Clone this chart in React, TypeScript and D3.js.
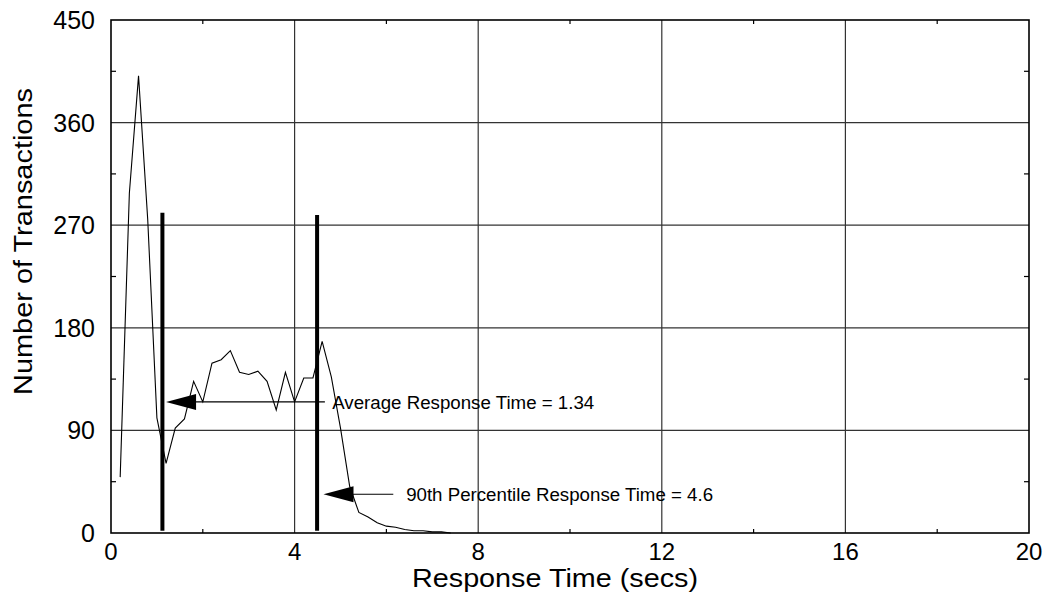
import React from "react";
import * as d3 from "d3";

const responseTimes = [0.2, 0.4, 0.6, 0.8, 1.0, 1.2, 1.4, 1.6, 1.8, 2.0, 2.2, 2.4, 2.6, 2.8, 3.0, 3.2, 3.4, 3.6, 3.8, 4.0, 4.2, 4.4, 4.6, 4.8, 5.0, 5.2, 5.4, 5.6, 5.8, 6.0, 6.2, 6.4, 6.6, 6.8, 7.0, 7.2, 7.4];
const transactions = [49, 298, 401, 275, 101, 61, 92, 100, 133, 115, 149, 152, 160, 141, 139, 142, 133, 108, 141, 115, 136, 136, 168, 137, 92, 41, 18, 14, 9, 6, 5, 3, 2, 2, 1, 1, 0];

const xTicks = [0, 4, 8, 12, 16, 20];
const xMinorTicks = [2, 6, 10, 14, 18];
const yTicks = [0, 90, 180, 270, 360, 450];
const yMinorTicks = [45, 135, 225, 315, 405];

// marker lines: [x position, top value]
const markerX = [1.12, 4.49];
const markerTop = [281, 279];

// annotations: arrow tip x, line end x, y, label x, label
const annTipX = [1.2, 4.63];
const annEndX = [4.66, 6.15];
const annY = [115, 34];
const annLabelX = [4.82, 6.43];
const annLabels = ["Average Response Time = 1.34", "90th Percentile Response Time = 4.6"];

const W = 1048;
const H = 594;
const M = { left: 111, right: 1029, top: 20, bottom: 533 };
const FONT = "'Liberation Sans', Arial, Helvetica, sans-serif";

export default function App() {
  const x = d3.scaleLinear().domain([0, 20]).range([M.left, M.right]);
  const y = d3.scaleLinear().domain([0, 450]).range([M.bottom, M.top]);
  const line = d3
    .line<number>()
    .x((_, i) => x(responseTimes[i]))
    .y((d) => y(d));
  const pathD = line(transactions) || "";

  return (
    <svg
      width={W}
      height={H}
      style={{ position: "absolute", left: 0, top: 0, background: "#fff" }}
      fontFamily={FONT}
    >
      <rect x={0} y={0} width={W} height={H} fill="#fff" />
      {/* grid */}
      {xTicks.slice(1, -1).map((t) => (
        <line key={"gx" + t} x1={x(t)} x2={x(t)} y1={y(0)} y2={y(450)} stroke="#333" strokeWidth={1.2} />
      ))}
      {yTicks.slice(1, -1).map((t) => (
        <line key={"gy" + t} x1={x(0)} x2={x(20)} y1={y(t)} y2={y(t)} stroke="#333" strokeWidth={1.2} />
      ))}
      {/* minor ticks */}
      {yMinorTicks.map((t) => (
        <g key={"my" + t}>
          <line x1={x(0)} x2={x(0) + 5} y1={y(t)} y2={y(t)} stroke="#000" strokeWidth={1.2} />
          <line x1={x(20) - 5} x2={x(20)} y1={y(t)} y2={y(t)} stroke="#000" strokeWidth={1.2} />
        </g>
      ))}
      {xMinorTicks.map((t) => (
        <g key={"mx" + t}>
          <line x1={x(t)} x2={x(t)} y1={y(0)} y2={y(0) - 4} stroke="#000" strokeWidth={1.2} />
          <line x1={x(t)} x2={x(t)} y1={y(450)} y2={y(450) + 4} stroke="#000" strokeWidth={1.2} />
        </g>
      ))}
      {/* frame */}
      <rect
        x={x(0)}
        y={y(450)}
        width={x(20) - x(0)}
        height={y(0) - y(450)}
        fill="none"
        stroke="#000"
        strokeWidth={1.6}
      />
      {/* data line */}
      <path d={pathD} fill="none" stroke="#000" strokeWidth={1.1} strokeLinejoin="miter" />
      {/* marker lines */}
      {markerX.map((mx, i) => (
        <line key={"mk" + i} x1={x(mx)} x2={x(mx)} y1={y(markerTop[i])} y2={y(2)} stroke="#000" strokeWidth={4} />
      ))}
      {/* annotations */}
      {annTipX.map((tx, i) => {
        const ty = y(annY[i]);
        const tipPx = x(tx);
        return (
          <g key={"an" + i}>
            <line x1={tipPx + 20} x2={x(annEndX[i])} y1={ty} y2={ty} stroke="#000" strokeWidth={1.1} />
            <path
              d={`M${tipPx},${ty} L${tipPx + 30},${ty - 8} L${tipPx + 30},${ty + 8} Z`}
              fill="#000"
            />
            <text x={x(annLabelX[i])} y={ty + 7} fontSize={18.7} fill="#000">
              {annLabels[i]}
            </text>
          </g>
        );
      })}
      {/* tick labels */}
      {yTicks.map((t) => (
        <text key={"yl" + t} x={95} y={y(t) + 9} fontSize={25} textAnchor="end" fill="#000">
          {t}
        </text>
      ))}
      {xTicks.map((t) => (
        <text key={"xl" + t} x={x(t)} y={560} fontSize={24} textAnchor="middle" fill="#000">
          {t}
        </text>
      ))}
      {/* axis titles */}
      <text
        x={555}
        y={587}
        fontSize={25}
        textAnchor="middle"
        fill="#000"
        textLength={286}
        lengthAdjust="spacingAndGlyphs"
      >
        Response Time (secs)
      </text>
      <text
        transform={`translate(32, ${(y(0) + y(450)) / 2 - 35}) rotate(-90)`}
        fontSize={25}
        textAnchor="middle"
        fill="#000"
        textLength={307}
        lengthAdjust="spacingAndGlyphs"
      >
        Number of Transactions
      </text>
    </svg>
  );
}
